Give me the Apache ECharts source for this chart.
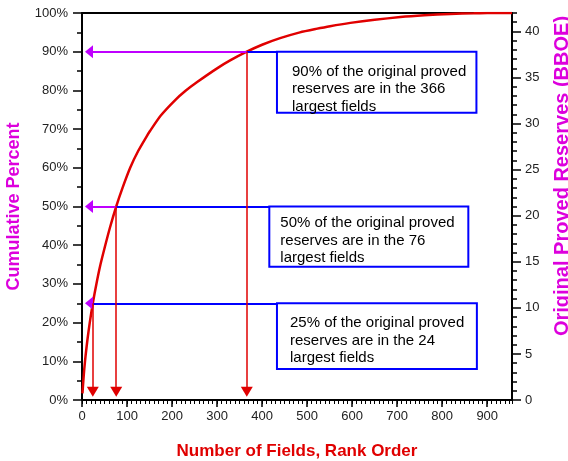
<!DOCTYPE html>
<html>
<head>
<meta charset="utf-8">
<script src="https://cdn.jsdelivr.net/npm/echarts@6/dist/echarts.min.js"></script>
<style>
html,body{margin:0;padding:0;background:#fff;}
#chart{width:568px;height:461px;}
</style>
</head>
<body>
<div id="chart"></div>
<script>
// ---- data ----
const ranks  = [1, 3, 5, 8, 12, 17, 24, 32, 40, 50, 62, 76, 90, 107, 125, 144, 151, 175, 207, 230, 255, 300, 330, 366, 400, 440, 484, 520, 551, 596, 650, 707, 760, 818, 870, 900, 955];
const cumPct = [1.7, 5, 8, 11.5, 15.5, 19.8, 25, 30, 34.5, 39.2, 44.5, 50, 54.8, 60, 64.4, 68.2, 69.5, 73.5, 77.5, 79.9, 82.1, 85.7, 87.8, 90, 91.8, 93.5, 95, 95.9, 96.6, 97.45, 98.25, 98.95, 99.4, 99.75, 99.92, 100, 100];

const xTickValues     = [0, 100, 200, 300, 400, 500, 600, 700, 800, 900];
const leftTickValues  = [0, 10, 20, 30, 40, 50, 60, 70, 80, 90, 100];
const rightTickValues = [0, 5, 10, 15, 20, 25, 30, 35, 40];

const annoRank = [24, 76, 366];
const annoPct  = [25, 50, 90];
const annoText = [
  '25% of the original proved\nreserves are in the 24\nlargest fields',
  '50% of the original proved\nreserves are in the 76\nlargest fields',
  '90% of the original proved\nreserves are in the 366\nlargest fields'
];

const xTitle = 'Number of Fields, Rank Order';
const yLeftTitle = 'Cumulative Percent';
const yRightTitle = 'Original Proved Reserves (BBOE)';

// ---- layout (data units) ----
const boxLayout = [
  {x0: 433, x1: 877, yBottom: 8.0,  dx: 13, dy: 11},
  {x0: 416, x1: 858, yBottom: 34.4, dx: 11, dy: 8},
  {x0: 433, x1: 876, yBottom: 74.2, dx: 15, dy: 11}
];
const purpleTipCenter = 15.5;  // rank where left arrowhead centre sits
const redTipCenter = 2.1;      // pct where down arrowhead centre sits

const FONT = '"Liberation Sans", Arial, Helvetica, sans-serif';
const RED = '#E00000', MAG = '#DD00DD', PURPLE = '#BF00FF', BLUE = '#0000FF';

const chart = echarts.init(document.getElementById('chart'));

const purpleLines = annoRank.map((r, i) => [{coord: [r, annoPct[i]]}, {coord: [purpleTipCenter, annoPct[i]]}]);
const blueLines = annoRank.map((r, i) => [{coord: [r, annoPct[i]]}, {coord: [boxLayout[i].x0, annoPct[i]]}]);
const redLines = annoRank.map((r, i) => [{coord: [r, annoPct[i]]}, {coord: [r, redTipCenter]}]);

const option = {
  animation: false,
  textStyle: {fontFamily: FONT},
  grid: {left: 82, right: 56, top: 13, bottom: 61, containLabel: false, outerBoundsMode: 'none'},
  xAxis: [
    {
      type: 'value', min: 0, max: 955, interval: 100, position: 'bottom',
      axisLine: {show: true, onZero: false, lineStyle: {color: '#000', width: 2}},
      axisTick: {show: true, length: 7, lineStyle: {color: '#000', width: 1.5}, customValues: xTickValues},
      axisLabel: {fontSize: 13, color: '#222', margin: 10, fontFamily: FONT, customValues: xTickValues},
      splitLine: {show: false},
      name: xTitle, nameLocation: 'middle', nameGap: 43,
      nameTextStyle: {color: RED, fontSize: 17, fontWeight: 'bold', fontFamily: FONT}
    },
    {
      type: 'value', min: 0, max: 955, interval: 10, position: 'bottom',
      axisLine: {show: false, onZero: false},
      axisTick: {show: true, length: 4, lineStyle: {color: '#000', width: 1}},
      axisLabel: {show: false}, splitLine: {show: false}
    },
    {
      type: 'value', min: 0, max: 955, position: 'top',
      axisLine: {show: true, onZero: false, lineStyle: {color: '#000', width: 2}},
      axisTick: {show: false}, axisLabel: {show: false}, splitLine: {show: false}
    }
  ],
  yAxis: [
    {
      type: 'value', min: 0, max: 100, interval: 10, position: 'left',
      axisLine: {show: true, onZero: false, lineStyle: {color: '#000', width: 2}},
      axisTick: {show: true, length: 9, lineStyle: {color: '#000', width: 1.5}},
      minorTick: {show: true, splitNumber: 2, length: 5, lineStyle: {color: '#000', width: 1.5}},
      axisLabel: {fontSize: 13, color: '#222', margin: 14, fontFamily: FONT, formatter: '{value}%'},
      splitLine: {show: false},
      name: yLeftTitle, nameLocation: 'middle', nameGap: 59,
      nameTextStyle: {color: MAG, fontSize: 18, fontWeight: 'bold', fontFamily: FONT}
    },
    {
      type: 'value', min: 0, max: 42, interval: 5, position: 'right',
      axisLine: {show: true, onZero: false, lineStyle: {color: '#000', width: 2}},
      axisTick: {show: true, length: 9, lineStyle: {color: '#000', width: 1.5}, customValues: rightTickValues},
      axisLabel: {fontSize: 13, color: '#222', margin: 13, fontFamily: FONT, customValues: rightTickValues},
      splitLine: {show: false}
    },
    {
      type: 'value', min: 0, max: 42, interval: 1, position: 'right',
      axisLine: {show: false, onZero: false},
      axisTick: {show: true, length: 5, lineStyle: {color: '#000', width: 1.5}},
      axisLabel: {show: false}, splitLine: {show: false}
    }
  ],
  graphic: [{
    type: 'text', x: 562, y: 176, rotation: Math.PI / 2,
    style: {text: yRightTitle, fill: MAG, font: 'bold 20px ' + FONT,
            align: 'center', verticalAlign: 'middle', textAlign: 'center', textVerticalAlign: 'middle'}
  }],
  series: [
    {
      type: 'line', xAxisIndex: 0, yAxisIndex: 0, z: 3,
      data: ranks.map((r, i) => [r, cumPct[i]]),
      showSymbol: false, smooth: 0.2,
      lineStyle: {color: RED, width: 2.5}, silent: true
    },
    {
      type: 'line', xAxisIndex: 0, yAxisIndex: 0, data: [], silent: true, z: 4,
      markLine: {
        silent: true, animation: false, symbol: ['none', 'none'],
        label: {show: false}, lineStyle: {color: BLUE, width: 2, type: 'solid'},
        emphasis: {disabled: true}, data: blueLines
      }
    },
    {
      type: 'line', xAxisIndex: 0, yAxisIndex: 0, data: [], silent: true, z: 4,
      markLine: {
        silent: true, animation: false, symbol: ['none', 'triangle'], symbolSize: [13, 8],
        label: {show: false}, lineStyle: {color: PURPLE, width: 2, type: 'solid'},
        itemStyle: {color: PURPLE},
        emphasis: {disabled: true}, data: purpleLines
      }
    },
    {
      type: 'line', xAxisIndex: 0, yAxisIndex: 0, data: [], silent: true, z: 4,
      markLine: {
        silent: true, animation: false, symbol: ['none', 'triangle'], symbolSize: [12, 10],
        label: {show: false}, lineStyle: {color: RED, width: 1.5, type: 'solid'},
        itemStyle: {color: RED},
        emphasis: {disabled: true}, data: redLines
      }
    },
    {
      type: 'custom', xAxisIndex: 0, yAxisIndex: 0, z: 5, silent: true,
      data: annoText.map((t, i) => [i]),
      renderItem: function (params, api) {
        const i = api.value(0);
        const b = boxLayout[i];
        const p0 = api.coord([b.x0, annoPct[i]]);
        const p1 = api.coord([b.x1, b.yBottom]);
        return {
          type: 'group',
          children: [
            {type: 'rect', shape: {x: p0[0], y: p0[1], width: p1[0] - p0[0], height: p1[1] - p0[1]},
             style: {fill: '#fff', stroke: BLUE, lineWidth: 2}},
            {type: 'text', x: p0[0] + b.dx, y: p0[1] + b.dy,
             style: {text: annoText[i], fill: '#000', font: '15px ' + FONT, lineHeight: 17.5,
                     align: 'left', verticalAlign: 'top', textAlign: 'left', textVerticalAlign: 'top'}}
          ]
        };
      }
    }
  ]
};
chart.setOption(option);
</script>
</body>
</html>
